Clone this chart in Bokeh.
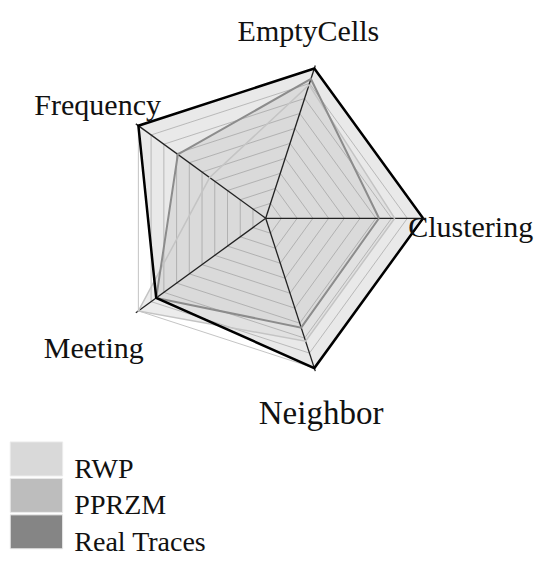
import numpy as np
from bokeh.plotting import figure
from bokeh.models import Range1d
from bokeh.core.properties import value
from bokeh.embed import file_html
from bokeh.resources import INLINE

# ---- data ----
categories = ["Clustering", "EmptyCells", "Frequency", "Meeting", "Neighbor"]
rwp = [0.82, 0.89, 0.44, 1.00, 0.82]
pprzm = [0.72, 0.93, 0.69, 0.86, 0.73]
real_traces = [1.00, 1.00, 1.00, 0.86, 1.00]
series_names = ["RWP", "PPRZM", "Real Traces"]
grid_levels = [0.1, 0.2, 0.3, 0.4, 0.5, 0.6, 0.7, 0.8, 0.9, 1.0]

# ---- layout / style ----
W, H = 544, 561          # canvas size
RW, RH = 560, 577        # reference coordinate space mapped onto the canvas
CX, CY, R = 273.0, -224.0, 162.0
FONT = value("Liberation Serif")
swatch = ["#d9d9d9", "#bdbdbd", "#858585"]
fill_alpha = [0.5, 0.32, 0.18]
outline = ["#c4c4c4", "#8c8c8c", "#000000"]
outline_w = [1.5, 2.0, 2.5]

label_pos = {  # (x, y baseline) in reference pixels, font size
    "EmptyCells": (317, 31, 30),
    "Clustering": (484, 232, 30),
    "Neighbor": (330, 424, 33),
    "Meeting": (96, 357, 30),
    "Frequency": (100, 107, 30),
}

p = figure(width=W, height=H, output_backend="svg", toolbar_location=None,
           x_range=Range1d(0, RW), y_range=Range1d(-RH, 0),
           min_border=0, outline_line_color=None)
p.axis.visible = False
p.grid.visible = False

n = len(categories)
ang = np.array([2 * np.pi * i / n for i in range(n)])


def poly(vals, scale=1.0):
    v = np.asarray(vals, dtype=float) * scale
    xs = CX + R * v * np.cos(ang)
    ys = CY + R * v * np.sin(ang)
    return list(xs), list(ys)


all_series = [rwp, pprzm, real_traces]

# fills (Real first, then PPRZM, then RWP)
for i in [2, 1, 0]:
    xs, ys = poly(all_series[i])
    p.patch(xs, ys, fill_color=swatch[i], fill_alpha=fill_alpha[i], line_color=None)

# grid pentagons
gxs, gys = [], []
for lv in grid_levels:
    xs, ys = poly([1.0] * n, lv)
    gxs.append(xs + [xs[0]])
    gys.append(ys + [ys[0]])
p.multi_line(gxs, gys, line_color="#8a8a8a", line_alpha=0.5, line_width=1.0)

# axes
axx = [[CX, CX + R * 1.02 * np.cos(a)] for a in ang]
axy = [[CY, CY + R * 1.02 * np.sin(a)] for a in ang]
p.multi_line(axx, axy, line_color="#222222", line_width=1.3)

# outlines
for i in [0, 1, 2]:
    xs, ys = poly(all_series[i])
    p.line(xs + [xs[0]], ys + [ys[0]], line_color=outline[i], line_width=outline_w[i],
           line_join="miter")

# axis labels
for c in categories:
    x, yb, fs = label_pos[c]
    p.text([x], [-yb], text=[c], text_font=FONT, text_font_size=f"{fs}px",
           text_align="center", text_baseline="alphabetic", text_color="#111111")

# legend
lx0, lx1, ly0, row_h, gap = 10, 64, 454, 35, 2.5
for k, name in enumerate(series_names):
    top = ly0 + k * (row_h + gap)
    p.quad(left=[lx0], right=[lx1], top=[-top], bottom=[-(top + row_h)],
           fill_color=swatch[k], line_color="#ececec", line_width=1)
    p.text([76], [-(top + 27)], text=[name], text_font=FONT, text_font_size="28px",
           text_align="left", text_baseline="alphabetic", text_color="#111111")

open("out.html", "w").write(file_html(p, INLINE))
